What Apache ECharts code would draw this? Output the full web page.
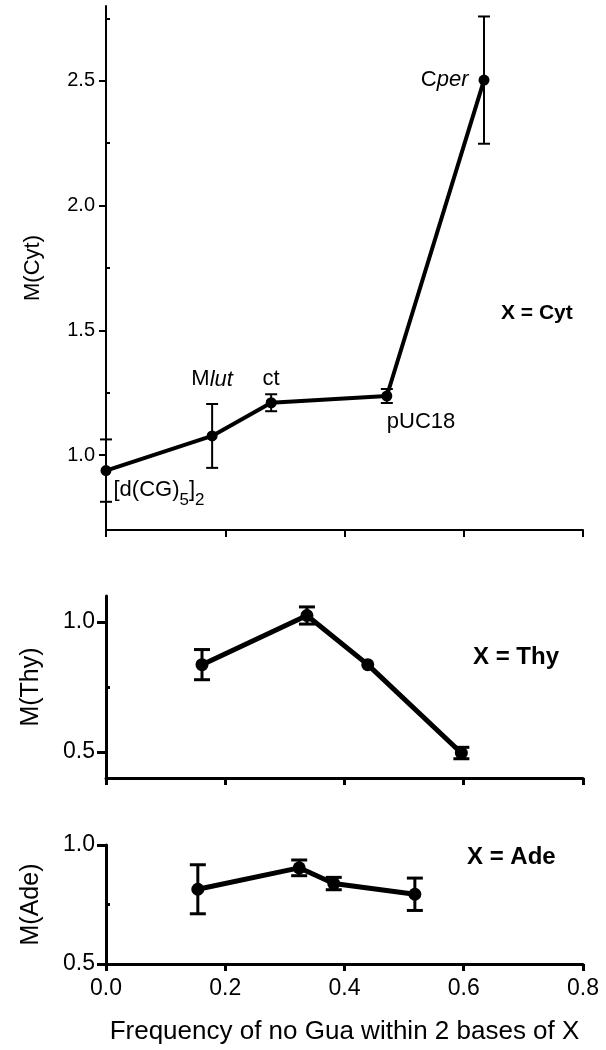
<!DOCTYPE html>
<html><head><meta charset="utf-8">
<script src="https://cdn.jsdelivr.net/npm/echarts@6/dist/echarts.min.js"></script>
<style>html,body{margin:0;padding:0;background:#fff}#c{width:606px;height:1050px}</style>
</head><body><div id="c"></div>
<script>
// ---- data ----
const xTicks = [0.0, 0.2, 0.4, 0.6, 0.8];

const cytNames = ['[d(CG)5]2', 'Mlut', 'ct', 'pUC18', 'Cper'];
const cytX   = [0.000, 0.178, 0.277, 0.471, 0.634];
const cytY   = [0.938, 1.077, 1.210, 1.237, 2.503];
const cytErr = [0.125, 0.128, 0.034, 0.028, 0.255];
const cytMajor = [1.0, 1.5, 2.0, 2.5];
const cytMinor = [1.25, 1.75, 2.25, 2.75];

const thyX   = [0.161, 0.337, 0.439, 0.596];
const thyY   = [0.836, 1.025, 0.836, 0.496];
const thyErr = [0.058, 0.033, 0.000, 0.022];
const thyMajor = [0.5, 1.0];
const thyMinor = [0.75];

const adeX   = [0.154, 0.324, 0.382, 0.518];
const adeY   = [0.814, 0.904, 0.838, 0.793];
const adeErr = [0.103, 0.033, 0.026, 0.068];
const adeMajor = [0.5, 1.0];
const adeMinor = [0.75];

// ---- styles ----
const FONT = 'Liberation Sans, Arial, sans-serif';
const BLACK = '#000';

const chart = echarts.init(document.getElementById('c'), null, {renderer: 'canvas'});

function xAxisDef(gi, showLabel, lw) {
  return {
    type: 'value', gridIndex: gi, min: 0, max: 0.8, interval: 0.2,
    axisLine: {show: true, lineStyle: {color: BLACK, width: lw}},
    axisTick: {show: true, length: 7, lineStyle: {color: BLACK, width: lw}},
    axisLabel: {show: showLabel, color: BLACK, fontFamily: FONT, fontSize: 23, margin: 13,
      formatter: v => v.toFixed(1)},
    splitLine: {show: false},
    name: showLabel ? 'Frequency of no Gua within 2 bases of X' : '',
    nameLocation: 'middle', nameGap: 55,
    nameTextStyle: {color: BLACK, fontFamily: FONT, fontSize: 26}
  };
}
function yMajor(gi, mn, mx, vals, name, fs, nfs, lw, tl) {
  return {
    type: 'value', gridIndex: gi, min: mn, max: mx,
    axisLine: {show: true, onZero: false, lineStyle: {color: BLACK, width: lw}},
    axisTick: {show: true, length: tl, customValues: vals, lineStyle: {color: BLACK, width: lw}},
    axisLabel: {show: true, customValues: vals, color: BLACK, fontFamily: FONT, fontSize: fs, margin: 11,
      formatter: v => Number(v).toFixed(1)},
    splitLine: {show: false},
    name: name, nameLocation: 'middle', nameGap: 62,
    nameTextStyle: {color: BLACK, fontFamily: FONT, fontSize: nfs}
  };
}
function yMinor(gi, mn, mx, vals, lw) {
  return {
    type: 'value', gridIndex: gi, min: mn, max: mx,
    axisLine: {show: false},
    axisTick: {show: true, length: 4, customValues: vals, lineStyle: {color: BLACK, width: lw}},
    axisLabel: {show: false},
    splitLine: {show: false}
  };
}
function errSeries(xi, yi, xs, ys, es, cap, lw) {
  return {
    type: 'custom', xAxisIndex: xi, yAxisIndex: yi, clip: false, z: 3,
    data: xs.map((x, i) => [x, ys[i], es[i]]),
    encode: {x: 0, y: 1},
    renderItem: function (params, api) {
      const x = api.value(0), y = api.value(1), e = api.value(2);
      if (!e) return null;
      const t = api.coord([x, y + e]);
      const b = api.coord([x, y - e]);
      const st = {stroke: BLACK, lineWidth: lw};
      return {type: 'group', children: [
        {type: 'line', shape: {x1: t[0], y1: t[1], x2: b[0], y2: b[1]}, style: st},
        {type: 'line', shape: {x1: t[0] - cap, y1: t[1], x2: t[0] + cap, y2: t[1]}, style: st},
        {type: 'line', shape: {x1: b[0] - cap, y1: b[1], x2: b[0] + cap, y2: b[1]}, style: st}
      ]};
    }
  };
}

const richBase = {
  n: {fontFamily: FONT, fontSize: 22, color: BLACK, lineHeight: 26},
  i: {fontFamily: FONT, fontSize: 22, color: BLACK, lineHeight: 26, fontStyle: 'italic'},
  s: {fontFamily: FONT, fontSize: 17, color: BLACK, lineHeight: 17, padding: [22, 0, 0, 0]}
};
const cytLabelCfg = [
  {position: 'right', distance: 2, offset: [0, 19], formatter: '{n|[d(CG)}{s|5}{n|]}{s|2}'},
  {position: 'top', distance: 38, formatter: '{n|M}{i|lut}'},
  {position: 'top', distance: 5, formatter: '{n|ct}'},
  {position: 'bottom', distance: 7, align: 'left', formatter: '{n|pUC18}'},
  {position: 'left', distance: 10, formatter: '{n|C}{i|per}'}
];
const cytData = cytX.map((x, i) => ({
  name: cytNames[i],
  value: [x, cytY[i]],
  label: Object.assign({show: true, rich: richBase}, cytLabelCfg[i])
}));

function lineSeries(xi, yi, data, sz, lw) {
  return {
    type: 'line', xAxisIndex: xi, yAxisIndex: yi, clip: false, z: 4,
    data: data, symbol: 'circle', symbolSize: sz, showSymbol: true,
    itemStyle: {color: BLACK}, lineStyle: {color: BLACK, width: lw},
    animation: false
  };
}

const option = {
  animation: false,
  backgroundColor: '#fff',
  grid: [
    {left: 106, right: 23, top: 6, height: 524},
    {left: 106, right: 23, top: 596, height: 182},
    {left: 106, right: 23, top: 845, height: 119}
  ],
  xAxis: [xAxisDef(0, false, 2), xAxisDef(1, false, 3), xAxisDef(2, true, 3)],
  yAxis: [
    yMajor(0, 0.7, 2.8, cytMajor, 'M(Cyt)', 20, 22, 2, 7),
    yMinor(0, 0.7, 2.8, cytMinor, 2),
    yMajor(1, 0.4, 1.1, thyMajor, 'M(Thy)', 23, 25, 3, 9),
    yMinor(1, 0.4, 1.1, thyMinor, 3),
    yMajor(2, 0.5, 1.0, adeMajor, 'M(Ade)', 23, 25, 3, 9),
    yMinor(2, 0.5, 1.0, adeMinor, 3)
  ],
  graphic: [
    {type: 'text', left: 501, top: 303, style: {text: 'X = Cyt', font: 'bold 21px ' + FONT, fill: BLACK}},
    {type: 'text', left: 473, top: 645, style: {text: 'X = Thy', font: 'bold 24px ' + FONT, fill: BLACK}},
    {type: 'text', left: 467, top: 845, style: {text: 'X = Ade', font: 'bold 24px ' + FONT, fill: BLACK}}
  ],
  series: [
    errSeries(0, 0, cytX, cytY, cytErr, 6, 2),
    lineSeries(0, 0, cytData, 11, 4),
    errSeries(1, 2, thyX, thyY, thyErr, 8, 3),
    lineSeries(1, 2, thyX.map((x, i) => [x, thyY[i]]), 13, 5),
    errSeries(2, 4, adeX, adeY, adeErr, 8, 3),
    lineSeries(2, 4, adeX.map((x, i) => [x, adeY[i]]), 13, 5)
  ]
};
chart.setOption(option);
</script>
</body></html>
